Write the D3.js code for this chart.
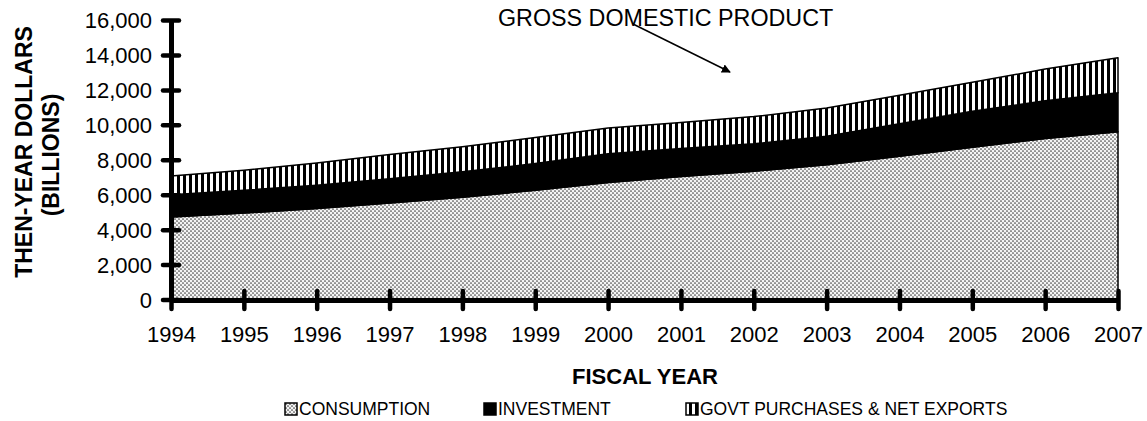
<!DOCTYPE html>
<html><head><meta charset="utf-8">
<script src="https://cdn.jsdelivr.net/npm/d3@7"></script>
<style>
html,body{margin:0;padding:0;background:#fff;}
svg{display:block;font-family:"Liberation Sans",Arial,sans-serif;}
</style></head>
<body><svg id="c" width="1147" height="421"></svg>
<script>
const years = [1994,1995,1996,1997,1998,1999,2000,2001,2002,2003,2004,2005,2006,2007];
const consumption = [4720,4950,5210,5530,5860,6250,6700,7040,7340,7720,8200,8720,9220,9600];
const investment  = [1270,1300,1330,1380,1450,1530,1640,1600,1570,1630,1860,2050,2160,2240];
const govtNetExports = [1080,1150,1280,1390,1440,1490,1480,1490,1560,1610,1630,1660,1810,2000];
const yTicks = [0,2000,4000,6000,8000,10000,12000,14000,16000];
const seriesNames = ["CONSUMPTION","INVESTMENT","GOVT PURCHASES & NET EXPORTS"];

const svg = d3.select("#c");
const x = d3.scaleLinear().domain([1994,2007]).range([171,1118]);
const y = d3.scaleLinear().domain([0,16000]).range([299.5,20]);

const defs = svg.append("defs");
const dots = defs.append("pattern").attr("id","dots").attr("patternUnits","userSpaceOnUse")
  .attr("width",4).attr("height",4);
dots.append("rect").attr("width",4).attr("height",4).attr("fill","#f4f4f4");
dots.append("circle").attr("cx",1).attr("cy",1).attr("r",0.85).attr("fill","#444");
dots.append("circle").attr("cx",3).attr("cy",3).attr("r",0.85).attr("fill","#444");
const stripes = defs.append("pattern").attr("id","stripes").attr("patternUnits","userSpaceOnUse")
  .attr("width",6).attr("height",10).attr("x",171);
stripes.append("rect").attr("width",6).attr("height",10).attr("fill","#fff");
stripes.append("rect").attr("x",0).attr("width",3).attr("height",10).attr("fill","#000");
const fills = ["url(#dots)","#000","url(#stripes)"];

const table = years.map((yr,i)=>({year:yr, c:consumption[i], inv:investment[i], g:govtNetExports[i]}));
const stack = d3.stack().keys(["c","inv","g"]);
const layers = stack(table);
const area = d3.area().x(d=>x(d.data.year)).y0(d=>y(d[0])).y1(d=>y(d[1]));

svg.append("g").selectAll("path").data(layers).join("path")
  .attr("d",area).attr("fill",(d,i)=>fills[i])
  .attr("stroke","#000").attr("stroke-width",1.5).attr("stroke-linejoin","round");

// Y axis
const yAxis = svg.append("g").attr("transform","translate(171,0)")
  .call(d3.axisLeft(y).tickValues(yTicks).tickFormat(d3.format(",")).tickSize(0).tickPadding(19));
yAxis.select(".domain").attr("stroke","#000").attr("stroke-width",5);
yAxis.selectAll(".tick line").attr("x1",-8).attr("x2",8).attr("stroke","#000")
  .attr("stroke-width",4.5).attr("stroke-linecap","round");
yAxis.selectAll(".tick text").attr("font-size",22).attr("fill","#000")
  .attr("font-family","'Liberation Sans',Arial,sans-serif").attr("dy","0.35em");

// X axis
const xAxis = svg.append("g").attr("transform","translate(0,300)")
  .call(d3.axisBottom(x).tickValues(years).tickFormat(d3.format("d")).tickSize(0).tickPadding(26));
xAxis.select(".domain").attr("stroke","#000").attr("stroke-width",5);
xAxis.selectAll(".tick line").attr("y1",-9).attr("y2",9).attr("stroke","#000")
  .attr("stroke-width",4.5).attr("stroke-linecap","round");
xAxis.selectAll(".tick text").attr("font-size",22).attr("fill","#000")
  .attr("font-family","'Liberation Sans',Arial,sans-serif");

// axis titles
svg.append("text").attr("x",645).attr("y",384).attr("text-anchor","middle")
  .attr("font-size",22).attr("font-weight","bold").text("FISCAL YEAR");
svg.append("text").attr("transform","translate(32,152) rotate(-90)").attr("text-anchor","middle")
  .attr("font-size",23).attr("font-weight","bold").text("THEN-YEAR DOLLARS");
svg.append("text").attr("transform","translate(59,155) rotate(-90)").attr("text-anchor","middle")
  .attr("font-size",23).attr("font-weight","bold").text("(BILLIONS)");

// annotation
svg.append("text").attr("x",498).attr("y",26).attr("font-size",23.3).text("GROSS DOMESTIC PRODUCT");
defs.append("marker").attr("id","arr").attr("viewBox","0 0 10 10").attr("refX",9).attr("refY",5)
  .attr("markerWidth",9).attr("markerHeight",9).attr("markerUnits","userSpaceOnUse").attr("orient","auto")
  .append("path").attr("d","M0,0L10,5L0,10z").attr("fill","#000");
svg.append("line").attr("x1",633).attr("y1",24).attr("x2",730).attr("y2",72)
  .attr("stroke","#000").attr("stroke-width",1.5).attr("marker-end","url(#arr)");

// legend
const legX = [285,484,686];
const leg = svg.append("g").selectAll("g").data(seriesNames).join("g")
  .attr("transform",(d,i)=>`translate(${legX[i]},403)`);
leg.append("rect").attr("width",12).attr("height",12).attr("fill",(d,i)=>fills[i])
  .attr("stroke","#000").attr("stroke-width",1.5);
leg.append("text").attr("x",14).attr("y",12).attr("font-size",17.5).text(d=>d);
</script></body></html>
